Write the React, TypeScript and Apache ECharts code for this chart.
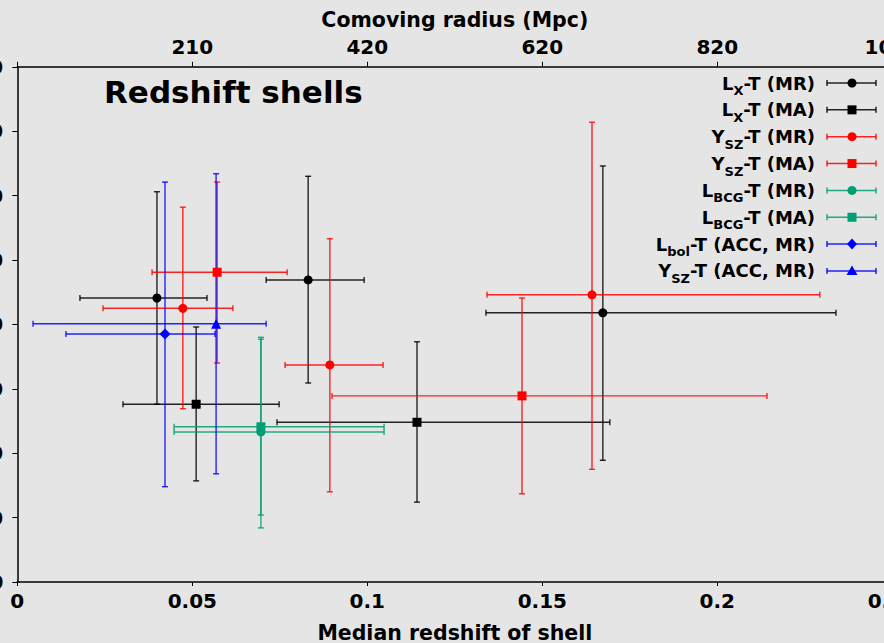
import React, { useEffect, useRef } from "react";
import * as echarts from "echarts";

// x axis (median redshift) ticks and the matching comoving-radius labels of the top axis
const zTicks = [0, 0.05, 0.1, 0.15, 0.2, 0.25];
const radiusLabels = ["", "210", "420", "620", "820", "1020"];
const yTickLabels = ["0", "10", "20", "30", "40", "50", "60", "70", "80"];

// rows: [z, zLow, zHigh, value, valueLow, valueHigh]
const lxMR = [
  [0.0399, 0.0179, 0.0542, 44.1, 27.6, 60.6],
  [0.0831, 0.0711, 0.0991, 46.9, 30.9, 63.0],
  [0.1673, 0.1339, 0.2339, 41.8, 18.9, 64.6],
];
const lxMA = [
  [0.0511, 0.0302, 0.0748, 27.6, 15.7, 39.6],
  [0.1142, 0.0742, 0.1693, 24.8, 12.4, 37.3],
];
const yszMR = [
  [0.0473, 0.0245, 0.0616, 42.5, 26.9, 58.2],
  [0.0893, 0.0765, 0.1045, 33.7, 14.0, 53.3],
  [0.1642, 0.1342, 0.2293, 44.6, 17.5, 71.4],
];
const yszMA = [
  [0.0571, 0.0385, 0.0771, 48.1, 34.0, 62.1],
  [0.1442, 0.0899, 0.2142, 28.9, 13.7, 44.1],
];
const lbcgMR = [[0.0696, 0.0448, 0.1048, 23.3, 8.4, 37.7]];
const lbcgMA = [[0.0696, 0.0448, 0.1048, 24.1, 10.4, 38.0]];
const lbolAccMR = [[0.0422, 0.0139, 0.0565, 38.5, 14.8, 62.1]];
const yszAccMR = [[0.0568, 0.0045, 0.0711, 40.1, 16.8, 63.4]];

const FONT = "DejaVu Sans";

const entries = [
  { name: "LX-T (MR)", label: "{m|L}{s|X}{m|-T (MR)}", data: lxMR, color: "#000000", symbol: "circle" },
  { name: "LX-T (MA)", label: "{m|L}{s|X}{m|-T (MA)}", data: lxMA, color: "#000000", symbol: "rect" },
  { name: "YSZ-T (MR)", label: "{m|Y}{s|SZ}{m|-T (MR)}", data: yszMR, color: "#ff0000", symbol: "circle" },
  { name: "YSZ-T (MA)", label: "{m|Y}{s|SZ}{m|-T (MA)}", data: yszMA, color: "#ff0000", symbol: "rect" },
  { name: "LBCG-T (MR)", label: "{m|L}{s|BCG}{m|-T (MR)}", data: lbcgMR, color: "#009e73", symbol: "circle" },
  { name: "LBCG-T (MA)", label: "{m|L}{s|BCG}{m|-T (MA)}", data: lbcgMA, color: "#009e73", symbol: "rect" },
  { name: "Lbol-T (ACC, MR)", label: "{m|L}{s|bol}{m|-T (ACC, MR)}", data: lbolAccMR, color: "#0000ff", symbol: "diamond" },
  { name: "YSZ-T (ACC, MR)", label: "{m|Y}{s|SZ}{m|-T (ACC, MR)}", data: yszAccMR, color: "#0000ff", symbol: "triangle" },
];

const symbolSize: Record<string, number> = { circle: 9, rect: 9, diamond: 11, triangle: 10 };

function legendMarker(symbol: string, cx: number, cy: number, color: string) {
  const style = { fill: color };
  if (symbol === "circle") return { type: "circle", shape: { cx, cy, r: 4.5 }, style };
  if (symbol === "rect") return { type: "rect", shape: { x: cx - 4.5, y: cy - 4.5, width: 9, height: 9 }, style };
  if (symbol === "diamond")
    return { type: "polygon", shape: { points: [[cx, cy - 5.5], [cx + 5, cy], [cx, cy + 5.5], [cx - 5, cy]] }, style };
  return { type: "polygon", shape: { points: [[cx, cy - 5.5], [cx + 5.5, cy + 4], [cx - 5.5, cy + 4]] }, style };
}

export default function App() {
  const ref = useRef<HTMLDivElement>(null);
  useEffect(() => {
    if (!ref.current) return;
    const chart = echarts.init(ref.current, null, { renderer: "svg" });

    const axisLabelStyle = { color: "#000", fontFamily: FONT, fontWeight: "bold", fontSize: 20 };
    const axisNameStyle = { color: "#000", fontFamily: FONT, fontWeight: "bold", fontSize: 20.5 };

    const series: any[] = [];
    entries.forEach((e) => {
      series.push({
        type: "custom",
        name: e.name,
        data: e.data,
        encode: { x: [0, 1, 2], y: [3, 4, 5] },
        silent: true,
        z: 2,
        renderItem: (params: any, api: any) => {
          const x = api.value(0), xl = api.value(1), xh = api.value(2);
          const y = api.value(3), yl = api.value(4), yh = api.value(5);
          const pL = api.coord([xl, y]);
          const pR = api.coord([xh, y]);
          const pB = api.coord([x, yl]);
          const pT = api.coord([x, yh]);
          const c = 3;
          const style = { stroke: e.color, lineWidth: 1.4, opacity: 0.85 };
          return {
            type: "group",
            children: [
              { type: "line", shape: { x1: pL[0], y1: pL[1], x2: pR[0], y2: pR[1] }, style },
              { type: "line", shape: { x1: pL[0], y1: pL[1] - c, x2: pL[0], y2: pL[1] + c }, style },
              { type: "line", shape: { x1: pR[0], y1: pR[1] - c, x2: pR[0], y2: pR[1] + c }, style },
              { type: "line", shape: { x1: pB[0], y1: pB[1], x2: pT[0], y2: pT[1] }, style },
              { type: "line", shape: { x1: pB[0] - c, y1: pB[1], x2: pB[0] + c, y2: pB[1] }, style },
              { type: "line", shape: { x1: pT[0] - c, y1: pT[1], x2: pT[0] + c, y2: pT[1] }, style },
            ],
          };
        },
      });
      series.push({
        type: "scatter",
        name: e.name + " marker",
        data: e.data.map((r) => [r[0], r[3]]),
        symbol: e.symbol,
        symbolSize: symbolSize[e.symbol],
        itemStyle: { color: e.color, opacity: 1 },
        z: 3,
        silent: true,
      });
    });

    const rowY0 = 83;
    const rowStep = 26.85;
    const graphics: any[] = [];
    entries.forEach((e, i) => {
      const y = rowY0 + i * rowStep;
      graphics.push({
        type: "text",
        x: 815,
        y,
        style: {
          text: e.label,
          align: "right",
          verticalAlign: "middle",
          fill: "#000",
          rich: {
            m: { fontFamily: FONT, fontWeight: "bold", fontSize: 18, fill: "#000", lineHeight: 20 },
            s: { fontFamily: FONT, fontWeight: "bold", fontSize: 13, fill: "#000", lineHeight: 13, padding: [15, 0, 0, 0] },
          },
        },
      });
      const ls = { stroke: e.color, lineWidth: 1.5, opacity: 0.85 };
      graphics.push({ type: "line", shape: { x1: 827, y1: y, x2: 876, y2: y }, style: ls });
      graphics.push({ type: "line", shape: { x1: 827, y1: y - 3, x2: 827, y2: y + 3 }, style: ls });
      graphics.push({ type: "line", shape: { x1: 876, y1: y - 3, x2: 876, y2: y + 3 }, style: ls });
      graphics.push(legendMarker(e.symbol, 852, y, e.color));
    });

    chart.setOption({
      animation: false,
      backgroundColor: "#e5e5e5",
      title: {
        text: "Redshift shells",
        left: 104,
        top: 76,
        padding: 0,
        textStyle: { color: "#000", fontFamily: FONT, fontWeight: "bold", fontSize: 31 },
      },
      grid: { left: 17.3, top: 66.8, width: 875, height: 515.2, containLabel: false, outerBoundsMode: "none" },
      xAxis: [
        {
          type: "value",
          position: "bottom",
          min: zTicks[0],
          max: zTicks[zTicks.length - 1],
          interval: 0.05,
          name: "Median redshift of shell",
          nameLocation: "middle",
          nameGap: 40.5,
          nameTextStyle: axisNameStyle,
          axisLine: { show: true, lineStyle: { color: "#000", width: 1.5 } },
          axisTick: { show: true, inside: false, length: 4, lineStyle: { color: "#000", width: 1 } },
          axisLabel: {
            ...axisLabelStyle,
            margin: 9,
            formatter: (v: number) => {
              const i = zTicks.findIndex((t) => Math.abs(t - v) < 1e-9);
              return i >= 0 ? String(zTicks[i]) : "";
            },
          },
          splitLine: { show: false },
        },
        {
          type: "value",
          position: "top",
          min: zTicks[0],
          max: zTicks[zTicks.length - 1],
          interval: 0.05,
          name: "Comoving radius (Mpc)",
          nameLocation: "middle",
          nameGap: 36,
          nameTextStyle: axisNameStyle,
          axisLine: { show: true, lineStyle: { color: "#000", width: 1.5 } },
          axisTick: { show: true, inside: false, length: 5, lineStyle: { color: "#000", width: 1 } },
          axisLabel: {
            ...axisLabelStyle,
            margin: 10,
            formatter: (v: number) => {
              const i = zTicks.findIndex((t) => Math.abs(t - v) < 1e-9);
              return i >= 0 ? radiusLabels[i] : "";
            },
          },
          splitLine: { show: false },
        },
      ],
      yAxis: {
        type: "value",
        min: 0,
        max: 80,
        interval: 10,
        axisLine: { show: true, lineStyle: { color: "#000", width: 1.5 } },
        axisTick: { show: true, inside: false, length: 5, lineStyle: { color: "#000", width: 1 } },
        axisLabel: {
          ...axisLabelStyle,
          margin: 14,
          formatter: (v: number) => yTickLabels[Math.round(v / 10)] ?? "",
        },
        splitLine: { show: false },
      },
      graphic: graphics,
      series,
    });

    return () => chart.dispose();
  }, []);

  return (
    <div
      ref={ref}
      style={{ position: "fixed", left: 0, top: 0, width: 884, height: 643, background: "#e5e5e5" }}
    />
  );
}
